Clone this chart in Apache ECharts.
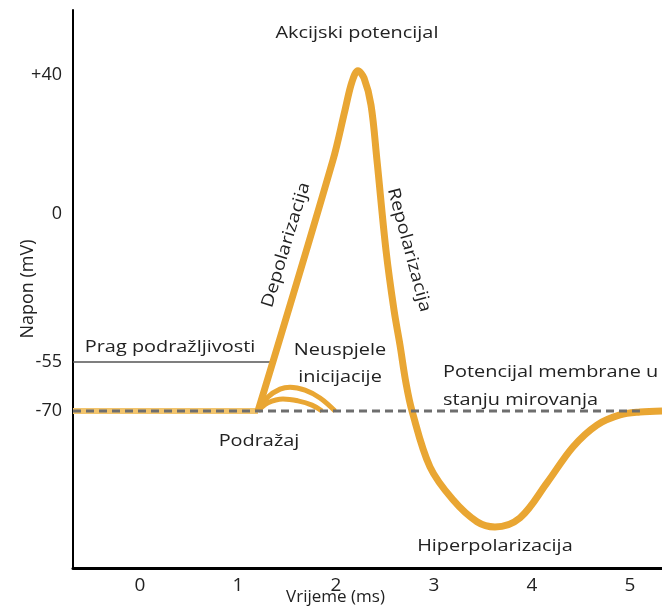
<!DOCTYPE html>
<html>
<head>
<meta charset="utf-8">
<script src="https://cdn.jsdelivr.net/npm/echarts@6/dist/echarts.min.js"></script>
<style>
  html, body { margin: 0; padding: 0; background: #fff; }
  #main { width: 662px; height: 615px; }
</style>
</head>
<body>
<div id="main"></div>
<script>
// time in ms, voltage in mV
var spikeX  = [1.204, 1.969, 2.092, 2.163, 2.224, 2.286, 2.357, 2.418, 2.510, 2.592, 2.653, 2.714, 2.776, 2.959, 3.194, 3.439, 3.622, 3.878, 4.153, 4.418, 4.663, 4.898, 5.102, 5.327];
var spikeMv = [-70, 15.5, 29.9, 38.0, 41.2, 39.1, 31.4, 15.5, -13.4, -35.7, -48.7, -61.4, -70, -87.1, -97.2, -103.9, -105.5, -102.7, -92.0, -81.0, -74.3, -71.2, -70.3, -70];

var failHighX  = [1.204, 1.306, 1.429, 1.531, 1.684, 1.837, 1.990];
var failHighMv = [-70, -65.7, -63.3, -62.7, -63.6, -66.0, -70];
var failLowX   = [1.204, 1.306, 1.459, 1.612, 1.755, 1.857];
var failLowMv  = [-70, -67.5, -66.3, -66.9, -68.2, -70];

var restMv = -70;
var thresholdMv = -55;
var stimulusX = 1.204;
var thresholdEndX = 1.327;
var restDashEndX = 5.102;

var xTicks = [0, 1, 2, 3, 4, 5];
var yTickMv = [40, 0, -55, -70];
var yTickText = ['+40', '0', '-55', '-70'];

var notes = [
  { text: 'Akcijski potencijal', x: 2.214, mv: 52.1 },
  { text: 'Prag podražljivosti', x: 0.306, mv: -49.4 },
  { text: 'Neuspjele', x: 2.041, mv: -50.5 },
  { text: 'inicijacije', x: 2.041, mv: -59.6 },
  { text: 'Potencijal membrane u', x: 3.092, mv: -58.1, align: 'left' },
  { text: 'stanju mirovanja', x: 3.092, mv: -66.6, align: 'left' },
  { text: 'Podražaj', x: 1.214, mv: -79.2 },
  { text: 'Hiperpolarizacija', x: 3.622, mv: -111.3 },
  { text: 'Depolarizacija', x: 1.490, mv: -11.5, rot: 73 },
  { text: 'Repolarizacija', x: 2.745, mv: -13.4, rot: -75 }
];

// the drawing is not to scale: the y axis is piecewise linear between the labelled values
var mvKnots  = [-70, -55, 0, 40];
var posKnots = [-56.69, -42.59, 0, 40];
function yPos(mv) {
  var i = 0;
  if (mv <= mvKnots[0]) i = 0;
  else if (mv >= mvKnots[mvKnots.length - 1]) i = mvKnots.length - 2;
  else while (mv > mvKnots[i + 1]) i++;
  var t = (mv - mvKnots[i]) / (mvKnots[i + 1] - mvKnots[i]);
  return posKnots[i] + t * (posKnots[i + 1] - posKnots[i]);
}
function pts(xs, ys) {
  return xs.map(function (x, i) { return [x, yPos(ys[i])]; });
}

var X_MIN = -0.684, X_MAX = 5.327;
var Y_MIN = -101.87, Y_MAX = 58.7;
var FONT = '"Open Sans", "Noto Sans", sans-serif';
var ORANGE = '#e9a633';

var chart = echarts.init(document.getElementById('main'));
chart.setOption({
  backgroundColor: '#fff',
  animation: false,
  grid: { left: 73, right: 0, top: 10, bottom: 47, outerBoundsMode: 'none', containLabel: false },
  xAxis: {
    type: 'value', min: X_MIN, max: X_MAX,
    name: 'Vrijeme (ms)', nameLocation: 'middle', nameGap: 21, nameMoveOverlap: false,
    nameTextStyle: { color: '#222', fontSize: 17, fontFamily: FONT, padding: [0, 64, 0, 0] },
    axisLine: { onZero: false, lineStyle: { color: '#000', width: 3 } },
    axisTick: { show: false },
    splitLine: { show: false },
    axisLabel: { customValues: xTicks, color: '#222', fontSize: 19, fontFamily: FONT, margin: 8 }
  },
  yAxis: {
    type: 'value', min: Y_MIN, max: Y_MAX,
    name: 'Napon (mV)', nameLocation: 'middle', nameGap: 36, nameRotate: 90, nameMoveOverlap: false,
    nameTextStyle: { color: '#222', fontSize: 18, fontFamily: FONT },
    axisLine: { onZero: false, lineStyle: { color: '#000', width: 2 } },
    axisTick: { show: false },
    splitLine: { show: false },
    axisLabel: {
      customValues: yTickMv.map(yPos),
      color: '#222', fontSize: 18, fontFamily: FONT, margin: 11,
      formatter: function (v) {
        for (var i = 0; i < yTickMv.length; i++) {
          if (Math.abs(yPos(yTickMv[i]) - v) < 0.01) return yTickText[i];
        }
        return '';
      }
    }
  },
  series: [
    {
      name: 'baseline', type: 'line', showSymbol: false, silent: true, z: 2,
      data: pts([X_MIN, stimulusX], [restMv, restMv]),
      lineStyle: { color: '#f2c46c', width: 6 }
    },
    {
      name: 'threshold', type: 'line', showSymbol: false, silent: true, z: 2,
      data: pts([X_MIN, thresholdEndX], [thresholdMv, thresholdMv]),
      lineStyle: { color: '#555', width: 1.5 }
    },
    {
      name: 'failHigh', type: 'line', showSymbol: false, silent: true, smooth: 0.4, z: 3,
      data: pts(failHighX, failHighMv),
      lineStyle: { color: ORANGE, width: 5 }
    },
    {
      name: 'failLow', type: 'line', showSymbol: false, silent: true, smooth: 0.4, z: 3,
      data: pts(failLowX, failLowMv),
      lineStyle: { color: ORANGE, width: 5 }
    },
    {
      name: 'spike', type: 'line', showSymbol: false, silent: true, smooth: 0.35, z: 4,
      data: pts(spikeX, spikeMv),
      lineStyle: { color: ORANGE, width: 7, join: 'round' }
    },
    {
      name: 'rest', type: 'line', showSymbol: false, silent: true, z: 5,
      data: pts([X_MIN, restDashEndX], [restMv, restMv]),
      lineStyle: { color: '#6e6e6e', width: 3, type: [8, 5] }
    }
  ]
});

var texts = notes.map(function (n) {
  var p = chart.convertToPixel({ gridIndex: 0 }, [n.x, yPos(n.mv)]);
  return {
    type: 'text', x: p[0], y: p[1],
    rotation: (n.rot || 0) * Math.PI / 180,
    scaleX: 1.17,
    silent: true,
    style: {
      text: n.text, fill: '#222', font: '17px ' + FONT,
      align: n.align || 'center', verticalAlign: 'middle'
    }
  };
});
chart.setOption({ graphic: texts });
</script>
</body>
</html>
